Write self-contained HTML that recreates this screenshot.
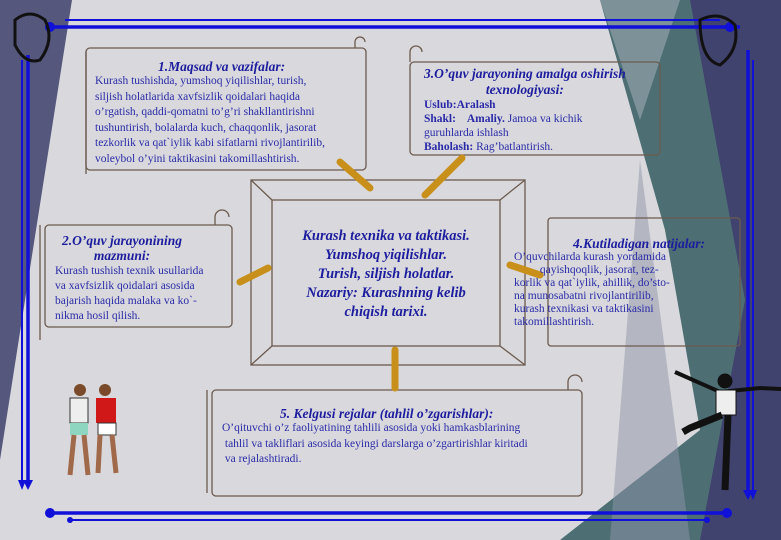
<!DOCTYPE html>
<html><head><meta charset="utf-8"><style>
body{margin:0;width:781px;height:540px;overflow:hidden;background:#d9d9dd;font-family:"Liberation Serif",serif;}
.t{position:absolute;color:#2a2aa8;font-size:11.5px;line-height:15.5px;white-space:nowrap}
.h{font-weight:bold;font-style:italic;color:#1c1c9e;font-size:13.5px}
</style></head><body>
<svg width="781" height="540" style="position:absolute;left:0;top:0">
<polygon points="0,0 72,0 0,460" fill="#55577c"/>
<polygon points="600,0 781,0 781,540 560,540 700,430 665,230" fill="#4d6f74"/>
<polygon points="690,0 781,0 781,540 700,540 745,300" fill="#41436f"/>
<polygon points="640,160 690,540 610,540" fill="#8f94a8" opacity=".5"/>
<polygon points="600,0 680,0 640,120" fill="#c6c8d0" opacity=".4"/>
<g stroke="#1010d8" fill="none">
<line x1="65" y1="20" x2="720" y2="20" stroke-width="2"/>
<line x1="50" y1="27" x2="740" y2="27" stroke-width="3.5"/>
<line x1="22" y1="60" x2="22" y2="480" stroke-width="2"/>
<line x1="28" y1="55" x2="28" y2="485" stroke-width="3.5"/>
<line x1="753" y1="60" x2="753" y2="495" stroke-width="2"/>
<line x1="748" y1="50" x2="748" y2="495" stroke-width="3.5"/>
<line x1="50" y1="513" x2="730" y2="513" stroke-width="3.5"/>
<line x1="70" y1="520" x2="710" y2="520" stroke-width="2"/>
</g>
<g fill="#1010d8"><circle cx="50" cy="27" r="5"/><circle cx="730" cy="27" r="5"/><circle cx="50" cy="513" r="5"/><circle cx="727" cy="513" r="5"/><circle cx="70" cy="520" r="3"/><circle cx="707" cy="520" r="3"/>
<polygon points="22,490 18,480 26,480"/><polygon points="28,490 23,480 33,480"/><polygon points="748,500 743,490 753,490"/><polygon points="753,500 749,490 757,490"/></g>
<g stroke="#111" stroke-width="3" fill="none"><path d="M15,20 q15,-12 30,0 q10,20 -5,40 q-15,5 -25,-15 z"/><path d="M700,20 q20,-10 35,5 q5,25 -15,40 q-20,-5 -20,-45 z"/></g>
<g stroke="#6b5a4e" stroke-width="1.3" fill="none">
<rect x="86" y="48" width="280" height="122" rx="4"/><path d="M86,52 v122 M355,48 v-6 a5,5 0 0 1 10,0"/>
<rect x="410" y="62" width="250" height="93" rx="4"/><path d="M410,62 v-10 a6,6 0 0 1 12,0"/>
<rect x="45" y="225" width="187" height="102" rx="4"/><path d="M40,225 v115 M215,225 v-8 a7,7 0 0 1 14,0"/>
<rect x="548" y="218" width="192" height="128" rx="3"/>
<rect x="212" y="390" width="370" height="106" rx="4"/><path d="M207,390 v103 M568,390 v-8 a7,7 0 0 1 14,0"/>
<rect x="251" y="180" width="274" height="185"/><rect x="272" y="200" width="228" height="146"/>
<path d="M251,180 L272,200 M525,180 L500,200 M251,365 L272,346 M525,365 L500,346"/>
</g>
<g stroke="#c8901a" stroke-width="7" stroke-linecap="round">
<line x1="370" y1="188" x2="340" y2="162"/><line x1="425" y1="195" x2="462" y2="158"/>
<line x1="268" y1="268" x2="240" y2="282"/><line x1="510" y1="265" x2="540" y2="275"/>
<line x1="395" y1="350" x2="395" y2="388"/></g>
<g><circle cx="80" cy="390" r="6" fill="#7a4a2a"/><rect x="70" y="398" width="18" height="25" fill="#eee" stroke="#333"/><rect x="70" y="423" width="18" height="12" fill="#8fd6c0"/><path d="M74,435 l-4,40 M84,435 l4,40" stroke="#a06a4a" stroke-width="5"/>
<circle cx="105" cy="390" r="6" fill="#7a4a2a"/><rect x="96" y="398" width="20" height="25" fill="#d01818"/><rect x="98" y="423" width="18" height="12" fill="#fff" stroke="#333"/><path d="M100,435 l-2,38 M112,435 l4,38" stroke="#a06a4a" stroke-width="5"/></g>
<g fill="#111" stroke="#111"><circle cx="725" cy="381" r="7"/><path d="M675,372 L720,392 L760,388 L781,389" stroke-width="4" fill="none"/><rect x="716" y="390" width="20" height="25" fill="#eee"/><path d="M722,415 L690,428 L683,432 M728,415 L725,490" stroke-width="7" fill="none"/></g>
</svg>
<div class="t h" style="left:158px;top:59px">1.Maqsad va vazifalar:</div>
<div class="t" style="left:95px;top:74px">Kurash tushishda, yumshoq yiqilishlar, turish,<br>siljish holatlarida xavfsizlik qoidalari haqida<br>o’rgatish, qaddi-qomatni to’g’ri shakllantirishni<br>tushuntirish, bolalarda kuch, chaqqonlik, jasorat<br>tezkorlik va qat`iylik kabi sifatlarni  rivojlantirilib,<br>voleybol o’yini taktikasini takomillashtirish.</div>
<div class="t h" style="left:424px;top:66px;text-align:center;line-height:16px">3.O’quv jarayoning  amalga oshirish<br>texnologiyasi:</div>
<div class="t" style="left:424px;top:98px;line-height:14px"><b>Uslub:Aralash</b><br><b>Shakl:&nbsp;&nbsp;&nbsp; Amaliy.</b> Jamoa va kichik<br>guruhlarda ishlash<br><b>Baholash:</b> Rag’batlantirish.</div>
<div class="t h" style="left:62px;top:233px;text-align:center;line-height:15px">2.O’quv  jarayonining<br>mazmuni:</div>
<div class="t" style="left:55px;top:264px;line-height:15px">Kurash tushish texnik usullarida<br>va xavfsizlik qoidalari asosida<br>bajarish haqida malaka va ko`-<br>nikma hosil qilish.</div>
<div class="t h" style="left:272px;top:227px;width:228px;text-align:center;font-size:14.5px;line-height:19px">Kurash texnika va taktikasi.<br>Yumshoq yiqilishlar.<br>Turish, siljish holatlar.<br>Nazariy: Kurashning kelib<br>chiqish tarixi.</div>
<div class="t h" style="left:573px;top:236px">4.Kutiladigan  natijalar:</div>
<div class="t" style="left:514px;top:251px;line-height:13px">O’quvchilarda kurash yordamida<br>&nbsp;&nbsp;&nbsp;&nbsp;&nbsp;&nbsp;&nbsp;&nbsp;&nbsp;qayishqoqlik, jasorat, tez-<br>korlik va qat`iylik, ahillik, do’sto-<br>na munosabatni rivojlantirilib,<br>kurash texnikasi va taktikasini<br>takomillashtirish.</div>
<div class="t h" style="left:280px;top:406px">5. Kelgusi  rejalar (tahlil  o’zgarishlar):</div>
<div class="t" style="left:222px;top:421px">O’qituvchi o’z faoliyatining tahlili asosida   yoki hamkasblarining<br>&nbsp;tahlil va takliflari asosida  keyingi darslarga o’zgartirishlar kiritadi<br>&nbsp;va rejalashtiradi.</div>
</body></html>
